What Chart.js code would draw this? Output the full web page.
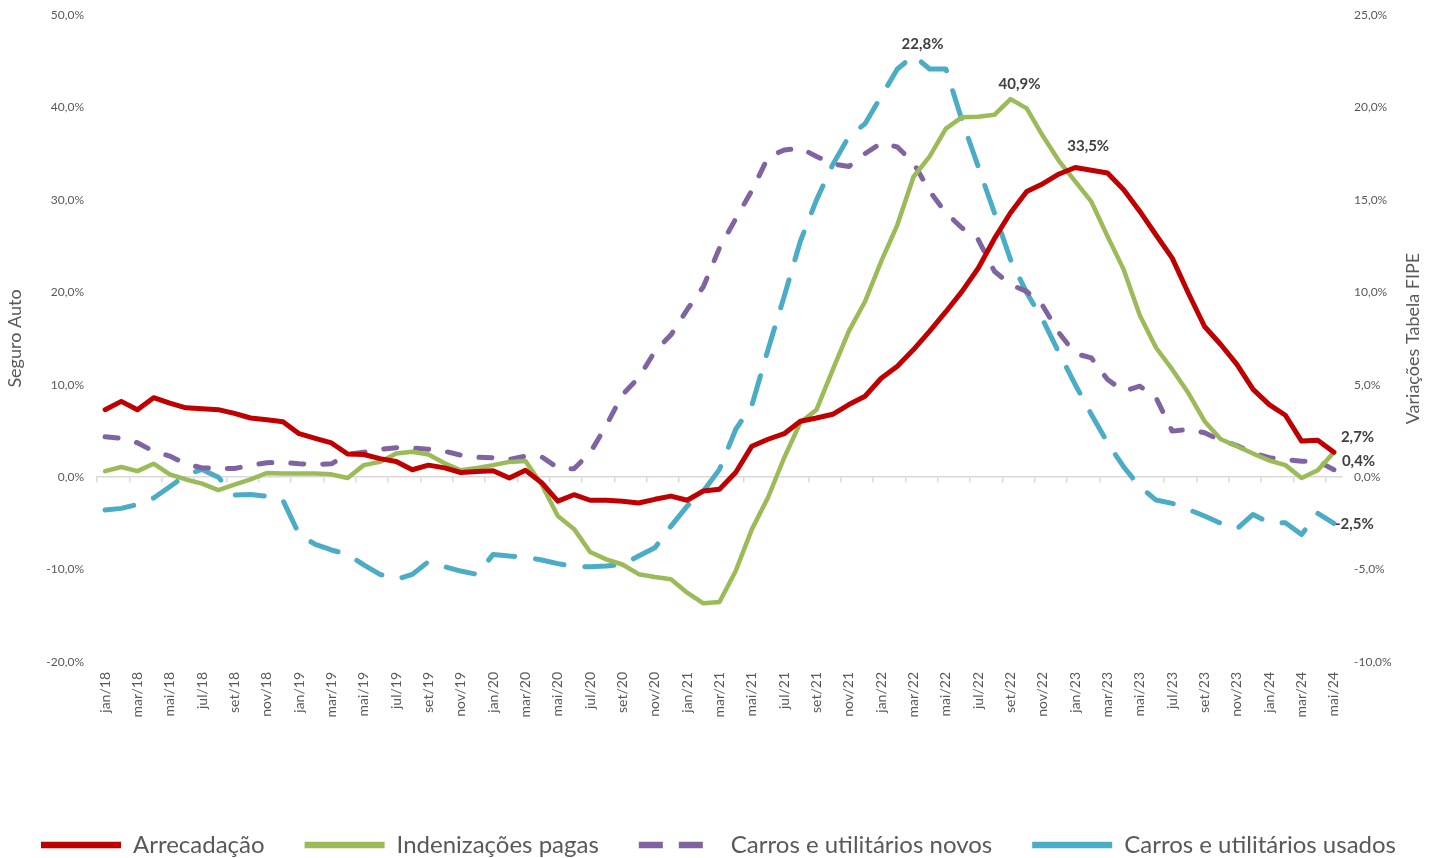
<!DOCTYPE html>
<html lang="pt-BR">
<head>
<meta charset="utf-8">
<title>Seguro Auto x Tabela FIPE</title>
<script src="https://cdn.jsdelivr.net/npm/chart.js@4.4.1/dist/chart.umd.min.js"></script>
<style>
    html, body { margin: 0; padding: 0; background: #fff; overflow: hidden; }
    #wrap { width: 1437px; height: 858px; position: relative; }
</style>
</head>
<body>
<div id="wrap"><canvas id="grafico"></canvas></div>
<script>
// meses (jan/18 .. mai/24)
const meses = [
    'jan/18','fev/18','mar/18','abr/18','mai/18','jun/18','jul/18','ago/18','set/18','out/18','nov/18','dez/18',
    'jan/19','fev/19','mar/19','abr/19','mai/19','jun/19','jul/19','ago/19','set/19','out/19','nov/19','dez/19',
    'jan/20','fev/20','mar/20','abr/20','mai/20','jun/20','jul/20','ago/20','set/20','out/20','nov/20','dez/20',
    'jan/21','fev/21','mar/21','abr/21','mai/21','jun/21','jul/21','ago/21','set/21','out/21','nov/21','dez/21',
    'jan/22','fev/22','mar/22','abr/22','mai/22','jun/22','jul/22','ago/22','set/22','out/22','nov/22','dez/22',
    'jan/23','fev/23','mar/23','abr/23','mai/23','jun/23','jul/23','ago/23','set/23','out/23','nov/23','dez/23',
    'jan/24','fev/24','mar/24','abr/24','mai/24'
];

// Seguro Auto (eixo esquerdo, %)
const arrecadacao = [
    7.3, 8.2, 7.3, 8.6, 8.0, 7.5, 7.4, 7.3, 6.9, 6.4, 6.2, 6.0,
    4.7, 4.2, 3.7, 2.5, 2.45, 2.0, 1.7, 0.8, 1.3, 1.0, 0.5, 0.6,
    0.7, -0.1, 0.75, -0.6, -2.6, -1.9, -2.5, -2.5, -2.6, -2.8, -2.4, -2.05,
    -2.5, -1.5, -1.3, 0.5, 3.35, 4.1, 4.7, 6.05, 6.4, 6.8, 7.85, 8.75,
    10.7, 12.0, 13.8, 15.8, 17.9, 20.1, 22.6, 25.8, 28.6, 30.9, 31.75, 32.8,
    33.5, 33.2, 32.9, 31.1, 28.75, 26.2, 23.7, 19.9, 16.3, 14.35, 12.2, 9.5,
    7.85, 6.7, 3.9, 4.0, 2.7
];
const indenizacoes = [
    0.65, 1.1, 0.65, 1.45, 0.3, -0.25, -0.7, -1.4, -0.8, -0.25, 0.45, 0.4,
    0.4, 0.4, 0.3, -0.1, 1.3, 1.65, 2.55, 2.75, 2.45, 1.5, 0.75, 1.0,
    1.3, 1.65, 1.75, -0.8, -4.2, -5.6, -8.1, -8.9, -9.45, -10.5, -10.8, -11.05,
    -12.5, -13.65, -13.5, -10.15, -5.65, -2.2, 2.1, 5.9, 7.3, 11.6, 15.8, 19.0,
    23.35, 27.3, 32.5, 34.7, 37.7, 38.95, 39.0, 39.2, 40.9, 39.9, 36.9, 34.2,
    32.0, 29.8, 26.05, 22.45, 17.5, 14.0, 11.65, 9.1, 6.05, 4.1, 3.35, 2.55,
    1.8, 1.3, -0.1, 0.75, 2.7
];

// Tabela FIPE (eixo direito, %)
const carrosNovos = [
    2.18, 2.1, 1.86, 1.4, 1.14, 0.72, 0.5, 0.47, 0.47, 0.63, 0.78, 0.81,
    0.72, 0.69, 0.72, 1.23, 1.35, 1.5, 1.59, 1.57, 1.51, 1.4, 1.19, 1.08,
    1.05, 0.96, 1.14, 1.1, 0.5, 0.45, 1.32, 2.8, 4.47, 5.37, 6.8, 7.7,
    9.06, 10.3, 12.4, 13.97, 15.5, 17.3, 17.7, 17.8, 17.35, 16.95, 16.8, 17.5,
    18.07, 17.86, 17.0, 15.46, 14.3, 13.48, 12.85, 11.14, 10.42, 10.05, 9.26, 7.8,
    6.69, 6.45, 5.28, 4.65, 4.92, 4.29, 2.49, 2.58, 2.4, 2.0, 1.71, 1.32,
    1.05, 0.96, 0.86, 0.86, 0.4
];
const carrosUsados = [
    -1.78, -1.69, -1.48, -1.13, -0.52, 0.11, 0.42, 0.0, -0.97, -0.94, -1.03, -1.25,
    -3.1, -3.64, -3.94, -4.18, -4.75, -5.26, -5.53, -5.26, -4.57, -4.84, -5.08, -5.26,
    -4.18, -4.27, -4.32, -4.48, -4.68, -4.83, -4.85, -4.81, -4.72, -4.27, -3.82, -2.65,
    -1.57, -0.76, 0.42, 2.58, 3.88, 6.9, 9.78, 12.76, 15.0, 16.9, 18.43, 19.12,
    20.6, 22.08, 22.8, 22.08, 22.08, 19.3, 16.8, 14.3, 11.77, 9.97, 8.5, 6.72,
    5.01, 3.39, 1.86, 0.55, -0.52, -1.24, -1.42, -1.75, -2.1, -2.5, -2.79, -2.02,
    -2.47, -2.47, -3.1, -1.96, -2.5
];

const cinza = '#595959';
const fonte = 'Lato';

function pct(v) {
    return v.toFixed(1).replace('.', ',') + '%';
}

// rótulos de dados: [dataset, índice, deslocamento x, deslocamento y, alinhamento]
const rotulos = [
    [3, 50, 9, -12, 'center'],
    [1, 56, 9, -15, 'center'],
    [0, 60, 13, -21, 'center'],
    [0, 76, 7, -15, 'left'],
    [2, 76, 8, -9, 'left'],
    [3, 76, 1, 1, 'left']
];

const rotulosPlugin = {
    id: 'rotulos',
    afterDatasetsDraw(chart) {
        const ctx = chart.ctx;
        ctx.save();
        ctx.font = 'bold 15px ' + fonte;
        ctx.fillStyle = '#404040';
        ctx.textBaseline = 'middle';
        rotulos.forEach(r => {
            const ponto = chart.getDatasetMeta(r[0]).data[r[1]];
            const valor = chart.data.datasets[r[0]].data[r[1]];
            ctx.textAlign = r[4];
            ctx.fillText(pct(valor), ponto.x + r[2], ponto.y + r[3]);
        });
        ctx.restore();
    }
};

// título do eixo direito lido de baixo para cima
const tituloDireito = {
    id: 'tituloDireito',
    afterDraw(chart) {
        const ctx = chart.ctx;
        const area = chart.chartArea;
        ctx.save();
        ctx.translate(chart.scales.y1.right - 24, (area.top + area.bottom) / 2);
        ctx.rotate(-Math.PI / 2);
        ctx.font = '18px ' + fonte;
        ctx.fillStyle = cinza;
        ctx.textAlign = 'center';
        ctx.textBaseline = 'middle';
        ctx.fillText('Variações Tabela FIPE', 0, 0);
        ctx.restore();
    }
};

const ctx = document.getElementById('grafico').getContext('2d');
new Chart(ctx, {
    type: 'line',
    data: {
        labels: meses,
        datasets: [
            {
                label: 'Arrecadação',
                data: arrecadacao,
                yAxisID: 'y',
                borderColor: '#C00000',
                backgroundColor: '#C00000',
                borderWidth: 5,
                borderCapStyle: 'round'
            },
            {
                label: 'Indenizações pagas',
                data: indenizacoes,
                yAxisID: 'y',
                borderColor: '#9BBB59',
                backgroundColor: '#9BBB59',
                borderWidth: 4.5,
                borderCapStyle: 'round'
            },
            {
                label: 'Carros e utilitários novos',
                data: carrosNovos,
                yAxisID: 'y1',
                borderColor: '#8064A2',
                backgroundColor: '#8064A2',
                borderWidth: 5,
                borderDash: [13, 19],
                borderCapStyle: 'round'
            },
            {
                label: 'Carros e utilitários usados',
                data: carrosUsados,
                yAxisID: 'y1',
                borderColor: '#4BACC6',
                backgroundColor: '#4BACC6',
                borderWidth: 5,
                borderDash: [29, 21],
                borderCapStyle: 'round'
            }
        ]
    },
    options: {
        responsive: true,
        maintainAspectRatio: false,
        animation: false,
        events: [],
        elements: {
            point: { radius: 0 },
            line: { tension: 0, borderJoinStyle: 'round' }
        },
        layout: { padding: { top: 15, bottom: -9, left: 0, right: 0 } },
        plugins: {
            tooltip: { enabled: false },
            legend: {
                position: 'bottom',
                labels: {
                    usePointStyle: true,
                    pointStyle: 'line',
                    pointStyleWidth: 80,
                    padding: 40,
                    color: cinza,
                    font: { family: fonte, size: 24 },
                    // amostras de linha mais grossas na legenda, como no original
                    generateLabels: function (chart) {
                        const itens = Chart.defaults.plugins.legend.labels.generateLabels(chart);
                        itens.forEach(it => {
                            it.lineWidth = 6.5;
                            if (it.datasetIndex === 2) it.lineDash = [24, 16];
                            if (it.datasetIndex === 3) it.lineDash = [];
                        });
                        return itens;
                    }
                }
            }
        },
        scales: {
            x: {
                type: 'category',
                position: 'bottom',
                offset: true,
                grid: { display: false, drawTicks: false },
                border: { display: false },
                ticks: {
                    autoSkip: false,
                    minRotation: 90,
                    maxRotation: 90,
                    padding: 10,
                    color: cinza,
                    font: { family: fonte, size: 14 },
                    callback: function (v, i) {
                        return i % 2 === 0 ? this.getLabelForValue(v) : '';
                    }
                },
                afterFit: function (s) { s.height = 131; }
            },
            x0: {
                type: 'category',
                position: { y: 0 },
                offset: true,
                grid: {
                    offset: true,
                    drawOnChartArea: false,
                    drawTicks: true,
                    tickLength: 5,
                    lineWidth: 1.5,
                    color: c => c.index % 2 === 0 ? '#d9d9d9' : 'rgba(0,0,0,0)'
                },
                border: { color: '#d9d9d9', width: 1.5 },
                ticks: { display: false }
            },
            y: {
                position: 'left',
                min: -20,
                max: 50,
                grid: { display: false, drawTicks: true, tickLength: 7 },
                border: { display: false },
                ticks: {
                    stepSize: 10,
                    padding: 6,
                    color: cinza,
                    font: { family: fonte, size: 12 },
                    callback: v => pct(v)
                },
                title: {
                    display: true,
                    text: 'Seguro Auto',
                    color: cinza,
                    font: { family: fonte, size: 18 },
                    padding: { top: 4, bottom: 0 }
                },
                afterFit: function (s) { s.width = 97; }
            },
            y1: {
                position: 'right',
                min: -10,
                max: 25,
                grid: { display: false, drawTicks: true, tickLength: 6 },
                border: { display: false },
                ticks: {
                    stepSize: 5,
                    padding: 6,
                    color: cinza,
                    font: { family: fonte, size: 12 },
                    callback: v => pct(v)
                },
                afterFit: function (s) { s.width = 95; }
            }
        }
    },
    plugins: [rotulosPlugin, tituloDireito]
});
</script>
</body>
</html>
